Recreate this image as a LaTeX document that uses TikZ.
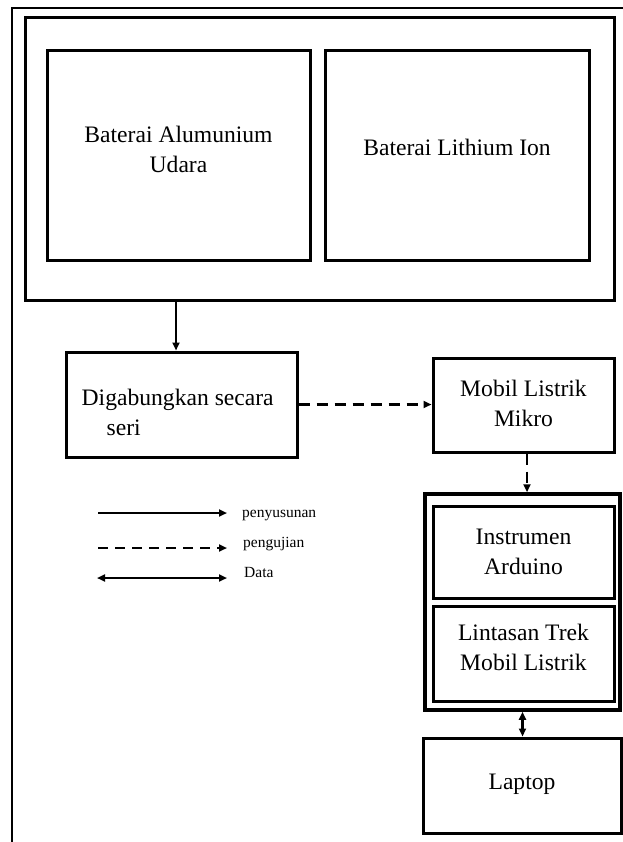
\documentclass[tikz,border=0pt]{standalone}
\usepackage{fontspec}
\setmainfont{Liberation Serif}
\usetikzlibrary{arrows.meta}

\tikzset{
  box/.style={draw, line width=3pt, inner sep=0pt},
  txt/.style={inner sep=0pt, align=center, font=\fontsize{23.6}{30}\selectfont},
  lgtxt/.style={inner sep=0pt, anchor=base west, font=\fontsize{15.5}{17}\selectfont},
  pen/.style={line width=2.2pt, -{Triangle[length=8pt,width=7pt]}},
  test/.style={pen, dash pattern=on 11pt off 7pt},
  data/.style={line width=2.2pt, {Triangle[length=8pt,width=7pt]}-{Triangle[length=8pt,width=7pt]}},
}

\begin{document}
\begin{tikzpicture}[x=1pt,y=-1pt]
\useasboundingbox (0,0) rectangle (622,842);

% page frame
\draw[line width=1.3pt] (12,8) rectangle (640,860);

% batteries
\node[box, minimum width=589pt, minimum height=282pt] (big) at (319.5,159) {};
\node[box, minimum width=263pt, minimum height=209pt] (alu) at (178.5,155.5) {};
\node[box, minimum width=264pt, minimum height=209pt] (lit) at (457,155.5) {};
\node[txt] (alutxt) at ([yshift=6pt]alu.center) {Baterai Alumunium\\Udara};
\node[txt] (littxt) at ([yshift=8.5pt]lit.center) {Baterai Lithium Ion};

% series + car
\node[box, minimum width=231pt, minimum height=105pt] (dig) at (181.5,404.5) {};
\node[txt, align=left, anchor=west] (digtxt) at ([xshift=17pt,yshift=-7.5pt]dig.west) {Digabungkan secara\\\hspace*{25pt}seri};
\node[box, minimum width=181pt, minimum height=94pt] (mobil) at (523.5,405) {};
\node[txt] (mobiltxt) at ([yshift=2pt]mobil.center) {Mobil Listrik\\Mikro};

% test stack
\node[box, line width=3.5pt, minimum width=195pt, minimum height=216pt] (stack) at (522.5,602) {};
\node[box, minimum width=181pt, minimum height=92pt] (ard) at (523.5,552) {};
\node[txt] (ardtxt) at (ard.center) {Instrumen\\Arduino};
\node[box, minimum width=181pt, minimum height=95pt] (trek) at (523.5,653.5) {};
\node[txt] (trektxt) at ([yshift=6.5pt]trek.center) {Lintasan Trek\\Mobil Listrik};
\node[box, minimum width=198pt, minimum height=95pt] (laptop) at (522,785.5) {};
\node[txt] (laptoptxt) at ([yshift=1pt]laptop.center) {Laptop};

% connectors
\draw[pen] ([xshift=-5.5pt]dig.north |- big.south) -- ([xshift=-5.5pt]dig.north);
\draw[test] (dig.east) -- (dig.east -| mobil.west);
\draw[test] ([xshift=3.5pt]mobil.south) -- ([xshift=3.5pt]mobil.south |- stack.north);
\draw[data] (stack.south) -- (stack.south |- laptop.north);

% legend
\coordinate (pa) at (98,513);
\coordinate (pb) at (227,513);
\coordinate (ta) at (98,548);
\coordinate (tb) at (227,548);
\coordinate (da) at (97,578);
\coordinate (db) at (227,578);
\draw[pen] (pa) -- (pb);
\draw[test, dash pattern=on 10pt off 7pt] (ta) -- (tb);
\draw[data] (da) -- (db);
\node[lgtxt] (ptxt) at (242,517) {penyusunan};
\node[lgtxt] (ttxt) at (243,547) {pengujian};
\node[lgtxt] (dtxt) at (244,577) {Data};
\end{tikzpicture}
\end{document}
